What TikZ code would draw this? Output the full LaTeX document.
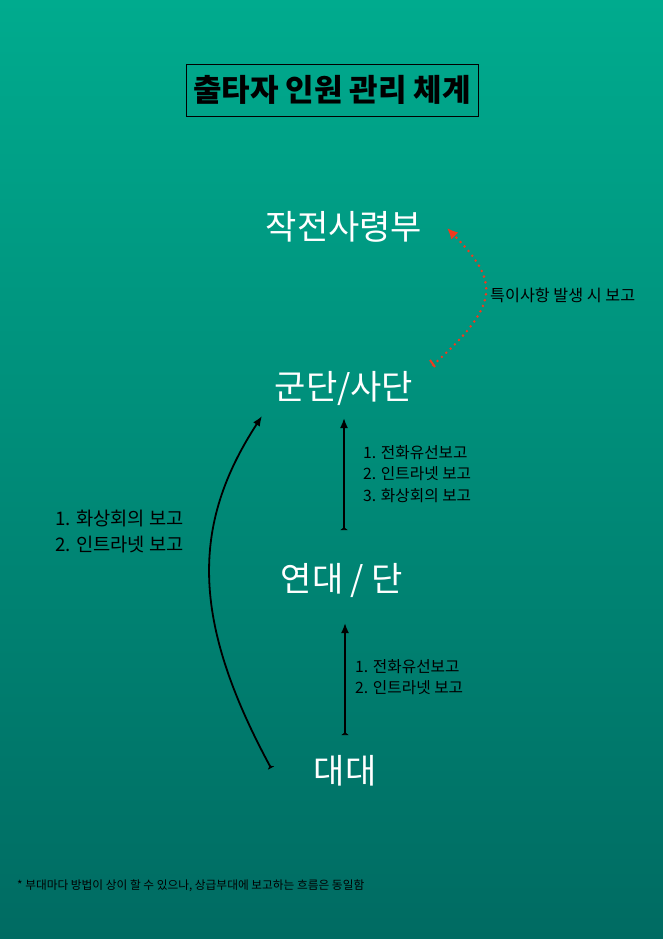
\documentclass[tikz,border=0pt]{standalone}
\usepackage{fontspec}
\setmainfont{Noto Sans CJK KR}
\newfontfamily\kr{Noto Sans CJK KR}
\usetikzlibrary{arrows.meta,calc}
\definecolor{bgtop}{HTML}{00AB8E}
\definecolor{bgbot}{HTML}{006B62}
\definecolor{redarr}{HTML}{F03A1E}
\tikzset{
  unit/.style={text=white, font=\kr\fontsize{34}{38}\selectfont, inner sep=0pt, anchor=center},
  lbl/.style={text=black, font=\kr\fontsize{15.7}{21.5}\selectfont, align=left, anchor=north west, inner sep=0pt},
  uparrow/.style={line width=1.8pt, {Latex[reversed,length=3pt,width=8pt]}-{Latex[length=10pt,width=8pt]}},
}
\begin{document}
\begin{tikzpicture}[x=1pt,y=-1pt]
\shade[top color=bgtop, bottom color=bgbot] (0,0) rectangle (663,939);
\useasboundingbox (0,0) rectangle (663,939);
% title
\node[draw=black, line width=0.8pt, minimum width=292pt, minimum height=52pt, inner sep=0pt,
  font=\kr\bfseries\fontsize{31}{34}\selectfont] (title) at (332,90) {출타자 인원 관리 체계};
% units
\node[unit] (hq) at (344,227) {작전사령부};
\node[unit] (corps) at (344,388) {군단/사단};
\node[unit] (reg) at (342,580) {연대 / 단};
\node[unit] (bn) at (345,771) {대대};
% arrow anchor coordinates
\coordinate (a1s) at (344,530);
\coordinate (a1e) at (344,418);
\coordinate (a2s) at (345,735);
\coordinate (a2e) at (345,623);
\coordinate (cs) at (271,768);
\coordinate (ce) at (262,416);
\coordinate (rs) at (433,365);
\coordinate (re) at (447,228);
\draw[uparrow] (a1s) -- (a1e);
\draw[uparrow] (a2s) -- (a2e);
\draw[line width=1.8pt, {Latex[reversed,length=3pt,width=8pt]}-{Latex[length=10pt,width=8pt]}]
  (cs) .. controls (191,620) and (191,525) .. (ce);
\draw[redarr, line width=2.8pt, line cap=round, dash pattern=on 0pt off 6pt, -{Latex[length=11pt,width=10pt]}]
  (rs) .. controls (500,305) and (500,282) .. (re);
\draw[redarr, line width=2pt] ($(rs)+(-3,-5)$) -- ($(rs)+(2,2)$);
% labels
\node[lbl] (l1) at (363,445) {1. 전화유선보고\\2. 인트라넷 보고\\3. 화상회의 보고};
\node[lbl] (l2) at (355,659) {1. 전화유선보고\\2. 인트라넷 보고};
\node[lbl, font=\kr\fontsize{18.7}{26}\selectfont] (l3) at (55,510) {1. 화상회의 보고\\2. 인트라넷 보고};
\node[lbl, anchor=west, font=\kr\fontsize{16.2}{20}\selectfont] (l4) at (490,295) {특이사항 발생 시 보고};
\node[lbl, anchor=west, font=\kr\fontsize{11.7}{13}\selectfont] (fn) at (17,886) {* 부대마다 방법이 상이 할 수 있으나, 상급부대에 보고하는 흐름은 동일함};
\end{tikzpicture}
\end{document}
